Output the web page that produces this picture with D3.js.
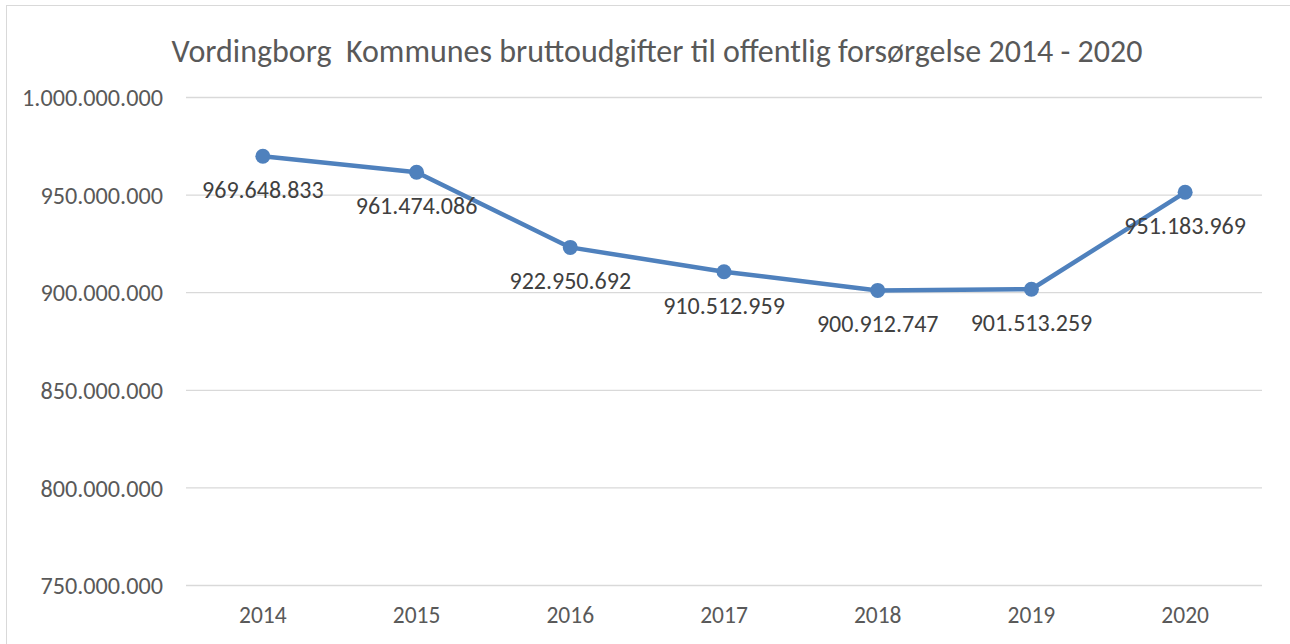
<!DOCTYPE html>
<html><head><meta charset="utf-8">
<script src="https://cdn.jsdelivr.net/npm/d3@7"></script>
<style>
html,body{margin:0;padding:0;background:#fff;}
svg{display:block;}
svg text{font-family:Carlito, Calibri, Lato, "Open Sans", sans-serif;}
</style></head>
<body><svg id="c" width="1290" height="644"></svg>
<script>
const years = ["2014","2015","2016","2017","2018","2019","2020"];
const values = [969648833, 961474086, 922950692, 910512959, 900912747, 901513259, 951183969];
const yTicks = [750000000, 800000000, 850000000, 900000000, 950000000, 1000000000];
const title = "Vordingborg  Kommunes bruttoudgifter til offentlig forsørgelse 2014 - 2020";

(function(){
const svg = d3.select("#c");
const fmt = v => d3.format(",")(v).replace(/,/g, ".");
const mLeft = 186, mRight = 1262, mTop = 97, mBottom = 585;

svg.append("line").attr("x1",6).attr("x2",1290).attr("y1",5.5).attr("y2",5.5).attr("stroke","#d9d9d9").attr("stroke-width",1);
svg.append("line").attr("x1",6.5).attr("x2",6.5).attr("y1",5).attr("y2",644).attr("stroke","#d9d9d9").attr("stroke-width",1);

const x = d3.scaleBand().domain(years).range([mLeft, mRight]);
const y = d3.scaleLinear().domain([750000000, 1000000000]).range([mBottom, mTop]);

const gy = svg.append("g").attr("transform", `translate(${mLeft},0)`)
  .call(d3.axisLeft(y).tickValues(yTicks).tickSize(-(mRight-mLeft)).tickPadding(23).tickFormat(fmt));
gy.select(".domain").remove();
gy.attr("font-family", null).attr("font-size", null);
gy.selectAll(".tick line").attr("stroke","#d9d9d9").attr("stroke-width",1.3);
gy.selectAll(".tick text").attr("fill","#595959").style("font-size","24.2px").attr("dy","0.36em");

const gx = svg.append("g").attr("transform", `translate(0,${mBottom})`)
  .call(d3.axisBottom(x).tickSize(0).tickPadding(22));
gx.select(".domain").remove();
gx.attr("font-family", null).attr("font-size", null);
gx.selectAll(".tick text").attr("fill","#595959").style("font-size","23.5px").attr("dy","0.68em");

svg.append("text").attr("x", 657).attr("y", 62).attr("text-anchor","middle")
  .attr("fill","#595959").style("font-size","32px").style("white-space","pre").text(title);

const cx = d => x(d) + x.bandwidth()/2;
const line = d3.line().x((d,i)=>cx(years[i])).y(d=>y(d));
svg.append("path").datum(values).attr("d", line).attr("fill","none")
  .attr("stroke","#4f81bd").attr("stroke-width",4.5).attr("stroke-linejoin","round").attr("stroke-linecap","round");
svg.selectAll("circle.pt").data(values).join("circle").attr("class","pt")
  .attr("cx",(d,i)=>cx(years[i])).attr("cy",d=>y(d)).attr("r",7.5).attr("fill","#4f81bd");
svg.selectAll("text.lbl").data(values).join("text").attr("class","lbl")
  .attr("x",(d,i)=>cx(years[i])).attr("y",d=>y(d)+42).attr("text-anchor","middle")
  .attr("fill","#404040").style("font-size","24px").text(fmt);
})();
</script></body></html>
